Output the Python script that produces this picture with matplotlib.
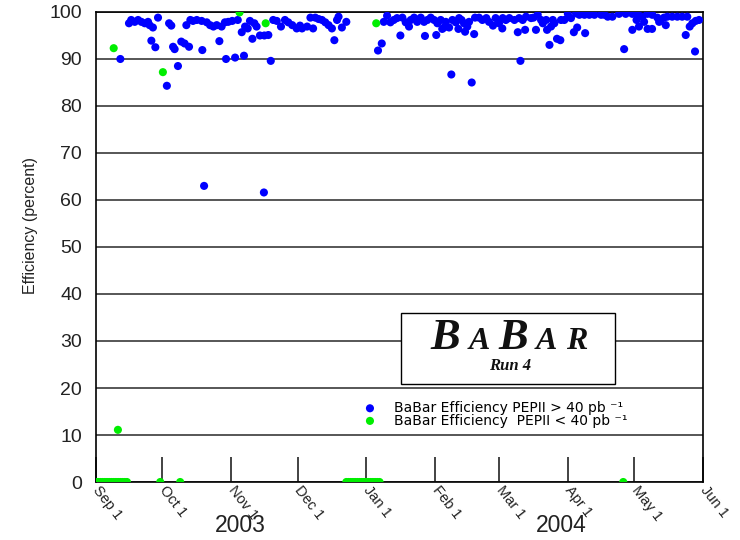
import matplotlib.pyplot as plt
import matplotlib.transforms as mtransforms
import numpy as np
from matplotlib.patches import Rectangle

# run start; all days below are counted from here
start = np.datetime64('2003-09-01')

month_starts = ['2003-09-01', '2003-10-01', '2003-11-01', '2003-12-01', '2004-01-01',
                '2004-02-01', '2004-03-01', '2004-04-01', '2004-05-01', '2004-06-01']
month_labels = ['Sep 1', 'Oct 1', 'Nov 1', 'Dec 1', 'Jan 1',
                'Feb 1', 'Mar 1', 'Apr 1', 'May 1', 'Jun 1']
year_labels = ['2003', '2004']
year_centres = ['2003-11-05', '2004-03-29']

# daily efficiency, days with PEPII delivered > 40 pb-1
blue_day = [11.0, 14.9, 15.9, 17.5, 19.0, 20.5, 22.0, 23.5, 24.2, 25.0, 25.7, 26.8, 28.0,
            32.0, 33.0, 34.0, 34.8, 35.5, 37.0, 38.5, 40.0, 40.8, 42.0, 42.6, 43.8,
            45.5, 47.7, 48.0, 48.8, 50.0, 51.5, 53.0, 54.5, 55.7, 56.7, 58.2, 58.7, 59.7,
            61.5, 62.8, 64.0, 65.8, 66.8, 67.3, 68.5, 69.5, 70.6, 71.5, 72.5, 74.0, 75.8,
            76.0, 77.8, 78.9, 80.0, 81.6, 83.5, 85.3, 86.8, 88.6, 90.6,
            92.1, 93.0, 95.3, 96.8, 98.0, 99.0, 100.5, 102.0, 103.5, 105.0, 106.5, 107.6,
            108.8, 109.5, 111.0, 113.0,
            127.3, 129.0, 129.9, 131.4, 132.9, 134.4, 135.9, 137.4,
            138.3, 139.8, 141.3, 142.1, 143.6, 145.0, 146.6, 148.1, 148.5, 149.6, 151.1,
            152.6, 153.6, 154.1, 155.6, 156.3, 157.1, 157.9, 159.4, 160.4, 160.9, 162.4,
            163.6, 163.9, 165.0, 166.1, 166.6, 167.6, 168.4, 169.6, 170.7, 171.1, 172.9,
            174.4, 176.2, 177.4, 179.2, 180.4, 181.9, 183.4,
            183.6, 185.0, 186.6, 188.9, 190.4, 191.0, 191.6, 192.6, 193.7, 194.1, 196.4,
            197.5, 198.6, 199.4, 200.9, 201.7, 203.2, 203.6, 204.7, 205.4, 206.2, 206.9,
            208.1, 209.6, 209.9, 211.4, 213.0, 214.4, 215.7, 216.7, 217.2, 218.2, 220.5,
            220.8, 222.7, 225.0, 228.0,
            229.5, 231.0, 233.1, 236.1, 238.4, 239.1, 242.1, 242.1, 244.0, 244.6, 245.1,
            246.6, 247.4, 248.9, 249.0, 251.0, 251.1, 253.4, 254.2, 254.9, 256.4, 257.2,
            257.9, 260.1, 262.4, 264.6, 266.2, 266.9, 268.0, 269.2, 270.4, 270.7, 272.2]
blue_eff = [90.0, 97.6, 98.3, 97.9, 98.3, 97.9, 97.6, 97.9, 97.2, 93.9, 96.7, 92.5, 98.8,
            84.3, 97.6, 97.1, 92.6, 92.1, 88.5, 93.7, 93.3, 97.2, 92.6, 98.3, 98.1,
            98.3, 98.1, 91.9, 63.0, 97.8, 97.2, 96.9, 97.2, 93.8, 96.9, 97.8, 90.0, 97.9,
            98.1, 90.3, 98.3, 95.7, 90.7, 96.9, 96.5, 98.1, 94.3, 97.6, 96.9, 95.0, 61.6,
            95.0, 95.1, 89.6, 98.3, 98.1, 96.9, 98.3, 97.8, 97.2, 96.5,
            97.1, 96.5, 96.9, 98.8, 96.5, 98.8, 98.5, 98.3, 97.8, 97.2, 96.5, 94.0,
            98.3, 99.0, 96.7, 97.9,
            91.8, 93.3, 97.9, 99.2, 97.8, 98.3, 98.7, 95.0,
            98.8, 97.8, 96.9, 98.3, 98.8, 97.9, 98.8, 97.9, 94.9, 98.3, 98.8,
            98.3, 95.1, 97.6, 98.3, 96.4, 96.7, 97.9, 96.7, 86.7, 98.3, 97.8,
            96.4, 98.7, 98.3, 97.6, 95.8, 96.9, 97.9, 85.0, 95.3, 98.8, 98.8,
            98.3, 98.7, 97.9, 97.1, 98.7, 97.6, 96.5,
            98.7, 98.3, 98.7, 98.3, 95.7, 98.7, 89.6, 98.3, 96.2, 99.0, 98.7,
            98.8, 96.2, 99.4, 98.3, 97.6, 98.3, 96.2, 93.0, 96.9, 98.3, 97.6,
            94.3, 94.0, 98.3, 98.3, 99.6, 98.7, 95.7, 99.7, 96.7, 99.4, 99.4,
            95.5, 99.4, 99.4, 99.4,
            99.4, 99.0, 99.0, 99.6, 92.1, 99.6, 99.6, 96.2, 98.3, 99.6, 96.9,
            99.0, 97.9, 99.6, 96.4, 96.4, 99.4, 98.8, 97.9, 98.3, 98.8, 97.2,
            99.0, 99.0, 99.0, 99.0, 95.1, 99.0, 96.9, 97.6, 91.6, 98.1, 98.3]

# days with PEPII delivered < 40 pb-1
green_day = [0, 1, 2, 3, 4, 5, 6, 7, 8, 9, 10, 11, 12, 13, 14,
             8.0, 9.9, 29, 30.2, 38, 64.8, 76.6,
             113, 114, 115, 116, 117, 118, 119, 120, 121, 122, 123, 124, 125, 126,
             126.5, 127, 128, 238]
green_eff = [0, 0, 0, 0, 0, 0, 0, 0, 0, 0, 0, 0, 0, 0, 0,
             92.3, 11.1, 0, 87.2, 0, 99.9, 97.6,
             0, 0, 0, 0, 0, 0, 0, 0, 0, 0, 0, 0, 0, 0,
             97.6, 0, 0, 0]


def to_dates(days):
    minutes = np.round(np.asarray(days, dtype=float) * 1440).astype('int64')
    return start + minutes.astype('timedelta64[m]')


plt.rcParams['font.family'] = ['Liberation Sans', 'DejaVu Sans']

fig = plt.figure(figsize=(7.4, 5.4), dpi=100)
ax = fig.add_axes([0.1297, 0.1074, 0.8203, 0.8704])

ax.scatter(to_dates(blue_day), blue_eff, s=34, color='#0000ff', edgecolors='none',
           zorder=4, label='BaBar Efficiency PEPII > 40 pb \u207b\u00b9')
ax.scatter(to_dates(green_day), green_eff, s=34, color='#00ee00', edgecolors='none',
           zorder=4, label='BaBar Efficiency  PEPII < 40 pb \u207b\u00b9')

ax.set_xlim(np.datetime64(month_starts[0]), np.datetime64(month_starts[-1]))
ax.set_ylim(0, 100)
ax.set_yticks(np.arange(0, 101, 10))
ax.yaxis.grid(True, color='#3a3a3a', lw=1.2)
ax.set_axisbelow(True)
for sp in ax.spines.values():
    sp.set_linewidth(1.2)

ax.tick_params(axis='y', length=0, pad=10, labelsize=14, colors='#222222')
ax.set_xticks([np.datetime64(d) for d in month_starts])
ax.set_xticklabels(month_labels)
ax.tick_params(axis='x', direction='in', length=18, width=1.2, pad=4,
               labelsize=10.5, colors='#222222')
for lab in ax.get_xticklabels():
    lab.set_rotation(-52)
    lab.set_ha('left')
    lab.set_va('center')
    lab.set_rotation_mode('anchor')

ax.set_ylabel('Efficiency (percent)', fontsize=11.5, color='#222222')
ax.yaxis.set_label_coords(-0.0955, 0.545)

trans = mtransforms.blended_transform_factory(ax.transData, ax.transAxes)
for lab, centre in zip(year_labels, year_centres):
    ax.text(np.datetime64(centre), -0.0915, lab, transform=trans,
            ha='center', va='center', fontsize=16.5, color='#222222')

leg = ax.legend(loc='upper left', bbox_to_anchor=(0.4399, 0.1725), frameon=False,
                prop={'family': 'DejaVu Sans', 'size': 10}, handletextpad=1.23,
                labelspacing=-0.1, borderpad=0, borderaxespad=0, handlelength=1.0)

# logo box
ax.add_patch(Rectangle((0.502, 0.2085), 0.353, 0.151, transform=ax.transAxes,
                       fc='white', ec='black', lw=1.0, zorder=3))
logo = dict(family='Liberation Serif', weight='bold', style='italic', color='#111111')
base_y = 0.2825
prev = ax.text(0.551, base_y, 'B', transform=ax.transAxes, fontsize=32,
               va='baseline', ha='left', zorder=5, **logo)
for ch, size in [('A', 23), ('B', 32), ('A', 23), ('R', 23)]:
    prev = ax.annotate(ch, xy=(1, base_y), xycoords=(prev, ax.transAxes),
                       xytext=(6, 0), textcoords='offset points',
                       va='baseline', ha='left', fontsize=size, zorder=5, **logo)
ax.text(0.682, 0.2385, 'Run 4', transform=ax.transAxes, fontsize=12,
        va='baseline', ha='center', zorder=5, **logo)

fig.savefig('out.png', dpi=100)
